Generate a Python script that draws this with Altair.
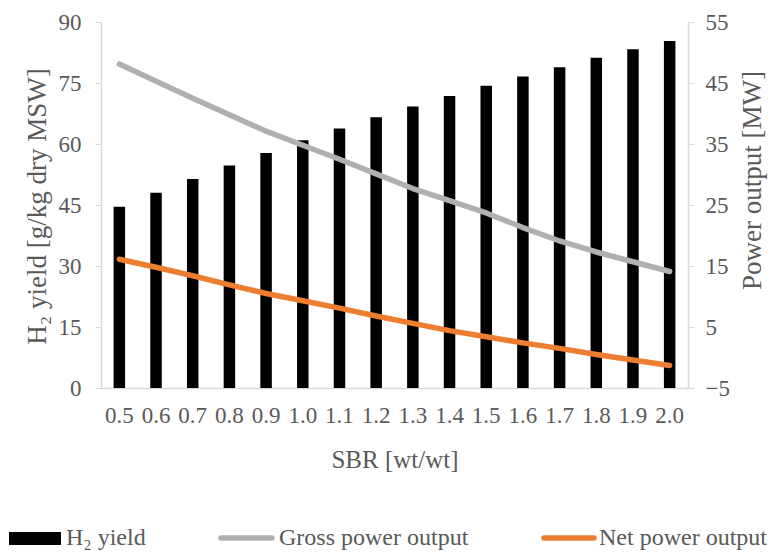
import altair as alt
import pandas as pd

# Steam-to-biomass ratio categories
sbr = ["0.5", "0.6", "0.7", "0.8", "0.9", "1.0", "1.1", "1.2",
       "1.3", "1.4", "1.5", "1.6", "1.7", "1.8", "1.9", "2.0"]

# H2 yield [g/kg dry MSW] (left axis)
h2_yield = [44.6, 48.0, 51.4, 54.7, 57.8, 60.9, 63.8, 66.6,
            69.2, 71.8, 74.3, 76.6, 78.9, 81.2, 83.3, 85.3]

# Power output [MW] (right axis)
gross_power = [48.1, 45.3, 42.5, 39.8, 37.1, 34.8, 32.5, 30.1,
               27.7, 25.7, 23.7, 21.3, 19.1, 17.3, 15.7, 14.1]
net_power = [16.1, 14.8, 13.4, 11.9, 10.5, 9.3, 8.1, 6.8,
             5.6, 4.4, 3.4, 2.4, 1.5, 0.5, -0.4, -1.3]

legend_labels = ["H₂ yield", "Gross power output", "Net power output"]

left_ticks = [0, 15, 30, 45, 60, 75, 90]
right_ticks = [-5, 5, 15, 25, 35, 45, 55]

FONT = "Liberation Serif"
TEXT = "#595959"
AXIS = "#d9d9d9"
GREY = "#b0b0b0"
ORANGE = "#ed7d31"

df = pd.DataFrame({"sbr": sbr, "h2": h2_yield,
                   "gross": gross_power, "net": net_power})

x_enc = alt.X("sbr:O", sort=sbr,
              scale=alt.Scale(paddingInner=0, paddingOuter=0),
              axis=alt.Axis(title="SBR [wt/wt]", labelAngle=0, ticks=False,
                            labelPadding=16, labelFontSize=23,
                            titleFontSize=25, titleY=79,
                            titleBaseline="alphabetic"))

bars = alt.Chart(df).mark_bar(size=11.5, color="black").encode(
    x=x_enc,
    y=alt.Y("h2:Q", scale=alt.Scale(domain=[0, 90], nice=False),
            axis=alt.Axis(title="H₂ yield [g/kg dry MSW]", values=left_ticks,
                          orient="left", tickSize=6, labelPadding=14,
                          labelFontSize=23, titleFontSize=27,
                          titleAngle=270, titleX=-64, titleY=184,
                          titleAlign="center", titleBaseline="middle")),
)

right_axis = alt.Axis(title="Power output [MW]", values=right_ticks,
                      orient="right", tickSize=6, labelPadding=11,
                      labelFontSize=23, titleFontSize=27,
                      titleAngle=270, titleX=64, titleY=158,
                      titleAlign="center", titleBaseline="middle")
right_scale = alt.Scale(domain=[-5, 55], nice=False)

gross_line = alt.Chart(df).mark_line(color=GREY, strokeWidth=5.5,
                                     strokeCap="round", strokeJoin="round").encode(
    x=alt.X("sbr:O", sort=sbr), y=alt.Y("gross:Q", scale=right_scale, axis=right_axis)
)
net_line = alt.Chart(df).mark_line(color=ORANGE, strokeWidth=5.5,
                                   strokeCap="round", strokeJoin="round").encode(
    x=alt.X("sbr:O", sort=sbr), y=alt.Y("net:Q", scale=right_scale, axis=right_axis)
)
lines = alt.layer(gross_line, net_line)

# Legend row beneath the chart
def label_layer(text, xpos):
    return alt.Chart(alt.Data(values=[{"label": text}])).mark_text(
        align="left", baseline="alphabetic", font=FONT, fontSize=24, color=TEXT
    ).encode(text="label:N", x=alt.value(xpos), y=alt.value(523))

one = alt.Data(values=[{"k": 0}])
leg_rect = alt.Chart(one).mark_rect(color="black").encode(
    x=alt.value(-92), x2=alt.value(-40), y=alt.value(510), y2=alt.value(523))
leg_gross = alt.Chart(one).mark_rule(color=GREY, strokeWidth=5.5, strokeCap="round").encode(
    x=alt.value(120), x2=alt.value(171), y=alt.value(516))
leg_net = alt.Chart(one).mark_rule(color=ORANGE, strokeWidth=5.5, strokeCap="round").encode(
    x=alt.value(443), x2=alt.value(493), y=alt.value(516))
legend = alt.layer(
    leg_rect, label_layer(legend_labels[0], -35),
    leg_gross, label_layer(legend_labels[1], 178),
    leg_net, label_layer(legend_labels[2], 498),
)

chart = alt.layer(bars, lines, legend).resolve_scale(y="independent").properties(
    width=587, height=366,
    autosize=alt.AutoSizeParams(type="none"),
    padding={"left": 101, "top": 22, "right": 84, "bottom": 166},
).configure_view(stroke=None).configure_axis(
    grid=False, domainColor=AXIS, tickColor=AXIS, domainWidth=1.5,
    labelFont=FONT, titleFont=FONT, labelColor=TEXT, titleColor=TEXT,
    titleFontWeight="normal",
)

chart.save("out.html", embed_options={"renderer": "svg", "actions": False})
